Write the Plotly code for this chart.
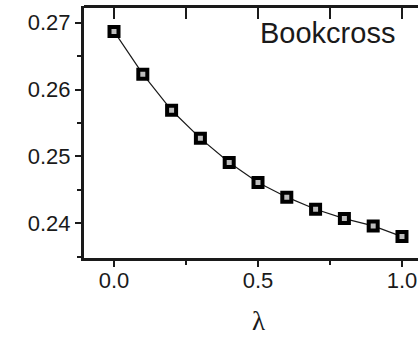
import plotly.graph_objects as go

# lambda sweep and the resulting metric on the Bookcross dataset
lam = [0.0, 0.1, 0.2, 0.3, 0.4, 0.5, 0.6, 0.7, 0.8, 0.9, 1.0]
score = [0.2687, 0.2623, 0.2569, 0.2527, 0.2491, 0.2461, 0.2439, 0.2421, 0.2407, 0.2396, 0.2380]
x_ticks = [0.0, 0.5, 1.0]
x_labels = ["0.0", "0.5", "1.0"]
y_ticks = [0.24, 0.25, 0.26, 0.27]
y_labels = ["0.24", "0.25", "0.26", "0.27"]

XR = [-0.1042, 1.0556]
YR = [0.2348, 0.2725]
INK = "#1a1a1a"
L, T, B, W, H = 84, 6, 79, 418, 337
PW, PH = W - L, H - T - B

fig = go.Figure()
fig.add_trace(go.Scatter(
    x=lam, y=score, mode="lines+markers",
    line=dict(color=INK, width=1.2),
    marker=dict(symbol="square", size=9, color="#bdbdbd",
                line=dict(color="#000000", width=4)),
    showlegend=False,
))
# invisible trace to carry the top axis
fig.add_trace(go.Scatter(x=lam, y=score, xaxis="x2", yaxis="y", mode="markers",
                         marker=dict(opacity=0), showlegend=False, hoverinfo="skip"))

fig.update_layout(
    width=W, height=H,
    margin=dict(l=L, r=0, t=T, b=B),
    paper_bgcolor="white", plot_bgcolor="white",
    font=dict(family="Liberation Sans, Arial, sans-serif", color=INK),
    xaxis=dict(
        range=XR, tickvals=x_ticks, ticktext=x_labels, automargin=False,
        showgrid=False, zeroline=False,
        showline=True, linecolor=INK, linewidth=3,
        ticks="outside", ticklen=6, tickwidth=2, tickcolor=INK,
        minor=dict(dtick=0.25, tick0=0, ticks="outside", ticklen=4, tickwidth=2, tickcolor=INK),
        tickfont=dict(size=22), ticklabelstandoff=-5,
    ),
    # top frame line with inward ticks
    xaxis2=dict(
        overlaying="x", anchor="free", position=1, side="top", range=XR,
        tickmode="linear", tick0=0, dtick=0.25, automargin=False,
        showticklabels=False, showgrid=False, zeroline=False,
        showline=True, linecolor=INK, linewidth=3,
        ticks="inside", ticklen=11, tickwidth=2, tickcolor=INK,
    ),
    yaxis=dict(
        range=YR, tickvals=y_ticks, ticktext=y_labels, automargin=False,
        showgrid=False, zeroline=False,
        showline=True, linecolor=INK, linewidth=3,
        ticks="outside", ticklen=6, tickwidth=2, tickcolor=INK,
        minor=dict(dtick=0.005, tick0=0.24, ticks="outside", ticklen=4, tickwidth=2, tickcolor=INK),
        tickfont=dict(size=22),
    ),
    annotations=[
        dict(x=(397 - L) / PW, y=1 - (33 - T) / PH, xref="paper", yref="paper",
             xanchor="right", yanchor="middle", showarrow=False,
             text="Bookcross", font=dict(size=29, color=INK)),
        dict(x=(258 - L) / PW, y=1 - (321 - T) / PH, xref="paper", yref="paper",
             xanchor="center", yanchor="middle", showarrow=False,
             text="λ", font=dict(family="Liberation Serif, Times New Roman, serif",
                                 size=27, color=INK)),
    ],
)

fig.write_html("out.html")
